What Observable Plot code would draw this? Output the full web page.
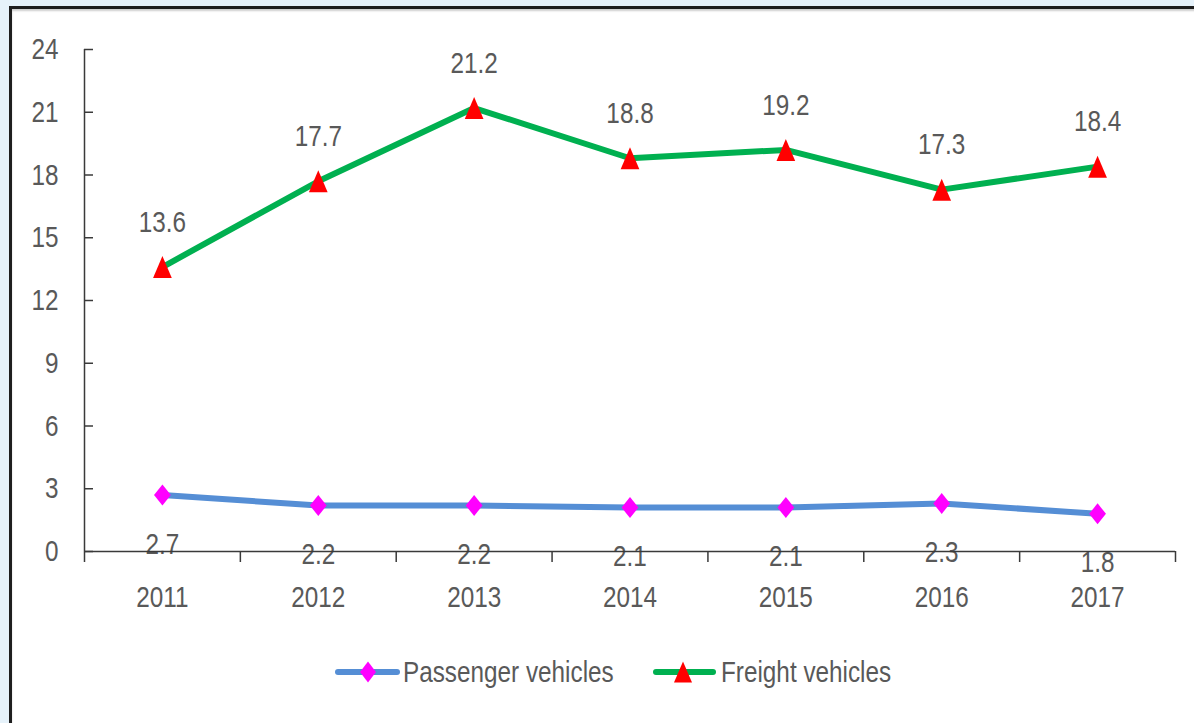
<!DOCTYPE html>
<html>
<head>
<meta charset="utf-8">
<script src="https://cdn.jsdelivr.net/npm/d3@7"></script>
<script src="https://cdn.jsdelivr.net/npm/@observablehq/plot@0.6"></script>
<style>
  html, body { margin: 0; padding: 0; }
  body { width: 1194px; height: 723px; overflow: hidden; background: #e6f2fa; position: relative;
         font-family: "Liberation Sans", Arial, sans-serif; }
  #frame { position: absolute; left: 9px; top: 6px; width: 1200px; height: 730px; background: #fff;
           border-top: 3px solid #1e1e1e; border-left: 3px solid #1e1e1e;
           box-shadow: inset 0 2px 2px #cfcfcf; }
  #chart { position: absolute; left: 0; top: 0; }
  .item { position: absolute; top: 652px; height: 40px; display: flex; align-items: center;
          font-size: 30px; color: #595959; white-space: nowrap; }
  .item span { display: inline-block; transform: scaleX(0.81); transform-origin: left center; margin-left: 3px; }
</style>
</head>
<body>
<div id="frame"></div>
<div id="chart"></div>
<div id="legend"></div>
<script>
const years = [2011, 2012, 2013, 2014, 2015, 2016, 2017];
const passenger = [2.7, 2.2, 2.2, 2.1, 2.1, 2.3, 1.8];
const freight = [13.6, 17.7, 21.2, 18.8, 19.2, 17.3, 18.4];
const yTicks = [0, 3, 6, 9, 12, 15, 18, 21, 24];
const seriesNames = ["Passenger vehicles", "Freight vehicles"];

const passengerData = years.map((year, i) => ({year, value: passenger[i]}));
const freightData = years.map((year, i) => ({year, value: freight[i]}));
const boundaries = [...years.map(y => y - 0.5), years[years.length - 1] + 0.5];

const FONT = '"Liberation Sans", Arial, sans-serif';
const GRAY = "#595959";
const AXIS = "#3a3a3a";
const FS = 30;
const SQUEEZE = 0.81;

const diamond = {
  draw(ctx, size) {
    const s = Math.sqrt(size / Math.PI);
    ctx.moveTo(0, -s); ctx.lineTo(s * 0.8, 0); ctx.lineTo(0, s); ctx.lineTo(-s * 0.8, 0); ctx.closePath();
  }
};
const triangle = {
  draw(ctx, size) {
    const s = Math.sqrt(size / Math.PI);
    ctx.moveTo(0, -s); ctx.lineTo(s * 0.85, s); ctx.lineTo(-s * 0.85, s); ctx.closePath();
  }
};

const chart = Plot.plot({
  width: 1194,
  height: 625,
  marginLeft: 84,
  marginRight: 19,
  marginTop: 49,
  marginBottom: 74,
  style: {fontFamily: FONT, fontSize: FS + "px", color: GRAY, background: "transparent", overflow: "visible"},
  x: {type: "linear", domain: [years[0] - 0.5, years[years.length - 1] + 0.5]},
  y: {domain: [0, 24]},
  marks: [
    Plot.axisY({ticks: yTicks, tickSize: 0, tickPadding: 26, tickFormat: d => String(d), fill: GRAY, fontSize: FS, label: null}),
    Plot.axisY({ticks: yTicks, tickSize: -9, text: null, stroke: AXIS, strokeWidth: 1.5, label: null}),
    Plot.axisX({ticks: boundaries, tickSize: 11, text: null, stroke: AXIS, strokeWidth: 1.5, label: null}),
    Plot.axisX({ticks: years, tickSize: 0, tickPadding: 34, tickFormat: d => String(d), fill: GRAY, fontSize: FS, label: null}),
    Plot.text(passengerData, {x: "year", y: "value", text: d => d.value.toFixed(1), dy: 49, fill: GRAY, fontSize: FS}),
    Plot.text(freightData, {x: "year", y: "value", text: d => d.value.toFixed(1), dy: -45, fill: GRAY, fontSize: FS}),
    Plot.ruleX([boundaries[0]], {stroke: AXIS, strokeWidth: 1.5}),
    Plot.ruleY([0], {stroke: AXIS, strokeWidth: 1.5}),
    Plot.line(passengerData, {x: "year", y: "value", stroke: "#558ed5", strokeWidth: 6, strokeLinecap: "round", strokeLinejoin: "round"}),
    Plot.line(freightData, {x: "year", y: "value", stroke: "#00b050", strokeWidth: 6, strokeLinecap: "round", strokeLinejoin: "round"}),
    Plot.dot(passengerData, {x: "year", y: "value", symbol: diamond, r: 10.5, fill: "#ff00ff", stroke: "none"}),
    Plot.dot(freightData, {x: "year", y: "value", symbol: triangle, r: 11, fill: "#ff0000", stroke: "none"})
  ]
});

// Narrow the glyphs horizontally (Calibri-like condensed look), keeping each text's anchor in place
chart.querySelectorAll("text").forEach(t => {
  const x = +t.getAttribute("x") || 0;
  const y = +t.getAttribute("y") || 0;
  const tr = t.getAttribute("transform") || "";
  t.setAttribute("transform", `${tr} translate(${x},${y}) scale(${SQUEEZE},1) translate(${-x},${-y})`.trim());
});
document.getElementById("chart").appendChild(chart);

// HTML legend below the plot
const legend = document.getElementById("legend");
const swatches = [
  {name: seriesNames[0], line: "#558ed5", marker: "#ff00ff", shape: "diamond", left: 333},
  {name: seriesNames[1], line: "#00b050", marker: "#ff0000", shape: "triangle", left: 651}
];
swatches.forEach(s => {
  const item = document.createElement("div");
  item.className = "item";
  item.style.left = s.left + "px";
  const shape = s.shape === "diamond"
    ? '<path d="M35,9.5 L43,20 L35,30.5 L27,20 Z" fill="' + s.marker + '"/>'
    : '<path d="M32,9.5 L41,30.5 L23,30.5 Z" fill="' + s.marker + '"/>';
  item.innerHTML = '<svg width="67" height="40" viewBox="0 0 67 40">' +
    '<line x1="5" y1="20" x2="' + (s.shape === "diamond" ? 64 : 62) + '" y2="20" stroke="' + s.line + '" stroke-width="6" stroke-linecap="round"/>' +
    shape + '</svg><span>' + s.name + '</span>';
  legend.appendChild(item);
});
</script>
</body>
</html>
